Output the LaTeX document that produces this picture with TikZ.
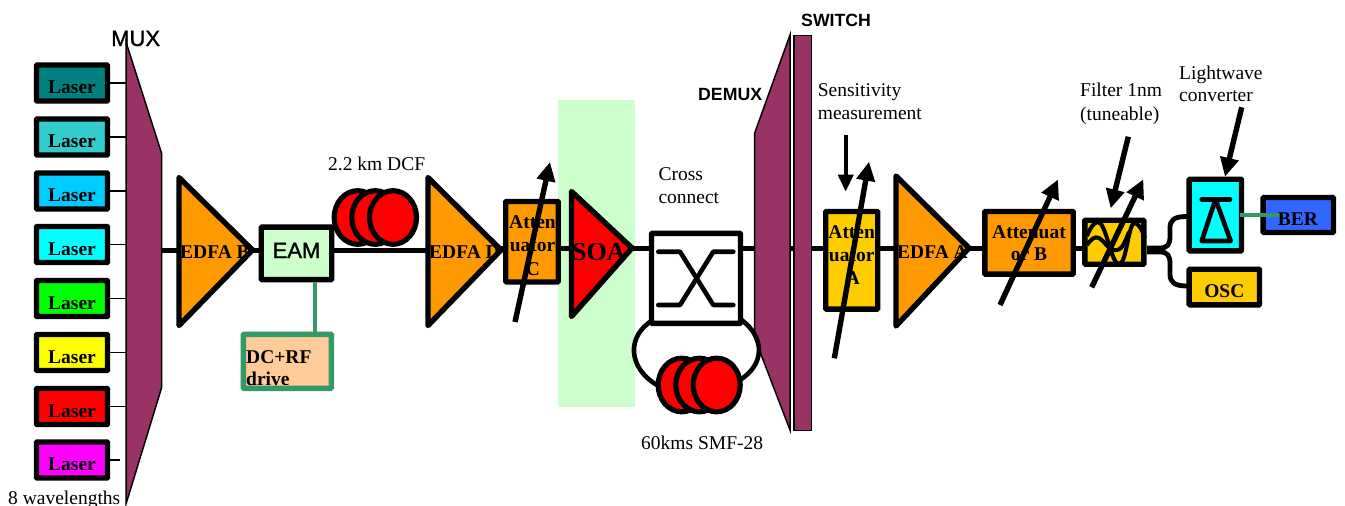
\documentclass[tikz,border=0pt]{standalone}
\usepackage{fontspec}
\setmainfont{Liberation Serif}
\setsansfont{Liberation Sans}
\newfontfamily\heavysans[FakeBold=1.2]{Liberation Sans}
\usetikzlibrary{arrows.meta}
\definecolor{plum}{HTML}{993366}
\definecolor{sea}{HTML}{339966}
\definecolor{mint}{HTML}{CCFFCC}
\definecolor{orng}{HTML}{FF9900}
\definecolor{gold}{HTML}{FFCC00}
\definecolor{peach}{HTML}{FFCC99}
\definecolor{teal1}{HTML}{008080}
\definecolor{teal2}{HTML}{33CCCC}
\definecolor{sky}{HTML}{00CCFF}
\definecolor{blu}{HTML}{3366FF}
\definecolor{cyn}{HTML}{00FFFF}
\definecolor{grn}{HTML}{00FF00}
\definecolor{yel}{HTML}{FFFF00}
\definecolor{rd}{HTML}{FF0000}
\definecolor{mgt}{HTML}{FF00FF}
\tikzset{
  x=1pt,y=-1pt,
  boxstyle/.style={draw=black,line width=5.4pt,rounded corners=0.8pt,inner sep=0pt},
  lab/.style={font=\fontsize{19.5}{23}\selectfont,inner sep=0pt,anchor=base west,align=left,text=black},
  blab/.style={font=\fontsize{19.5}{23}\selectfont\bfseries,inner sep=0pt,anchor=base,text=black},
  sans/.style={font=\fontsize{#1}{20}\selectfont\heavysans,inner sep=0pt,anchor=base west,text=black},
  fibre/.style={line width=5pt,black},
  thin stub/.style={line width=1.6pt,black},
  tri/.style={draw=black,line width=5.4pt,line join=round},
  plumshape/.style={fill=plum,draw=black,line width=1.5pt,line join=miter},
  bigarrow/.style={line width=5.4pt,black,-{Triangle[width=18pt,length=19pt]}},
  smallarrow/.style={line width=3.8pt,black,-{Triangle[width=15pt,length=17pt]}},
  coil/.style={draw=black,fill=rd,line width=5.2pt},
  xline/.style={line width=4.6pt,line cap=round,line join=round},
}
\newcommand{\laser}[3]{%
  \node[boxstyle,fill=#2,minimum width=71pt,minimum height=36pt] (#1) at (72,#3) {};
  \node[blab] (#1t) at (72,#3+10.5) {Laser};
  \coordinate (#1e) at (126,#3);
  \draw[thin stub] (#1.east) -- (#1e);
}
\begin{document}
\begin{tikzpicture}
\useasboundingbox (0,0) rectangle (1345,506);
% SOA background
\fill[mint] (558,100) rectangle (635,407);
% Lasers
\laser{la}{teal1}{83}
\laser{lb}{teal2}{137}
\laser{lc}{sky}{191}
\laser{ld}{cyn}{244.5}
\laser{le}{grn}{298.5}
\laser{lf}{yel}{352.5}
\laser{lg}{rd}{406.5}
\node[boxstyle,fill=mgt,minimum width=71pt,minimum height=36pt] (lh) at (72,460) {};
\node[blab] (lht) at (72,470.5) {Laser};
\coordinate (lhe) at (120,460);
\draw[thin stub] (lh.east) -- (lhe);
% Main line
\coordinate (m0) at (161,250);
\coordinate (m1) at (259,250);
\coordinate (m2) at (334,250);
\coordinate (m3) at (430,250);
\draw[fibre] (m0) -- (m1);
\draw[fibre] (m2) -- (m3);
\coordinate (n0) at (500,248);
\coordinate (n1) at (650,248);
\coordinate (n2) at (755,248);
\coordinate (n3) at (825,248);
\coordinate (n4) at (1085,248);
\draw[fibre] (n0) -- (n1);
\draw[fibre] (n1) -- (n2);
\draw[fibre] (n2) -- (n3) -- (n4);
% MUX
\draw[plumshape] (126,42) -- (161.5,153) -- (161.5,388) -- (126,504) -- cycle;
\node[sans=22] (mux) at (111,46) {MUX};
\node[lab] (wl) at (8,504) {8 wavelengths};
% EDFA B
\draw[tri,fill=orng] (179,177.5) -- (252.5,250) -- (179,325.5) -- cycle;
\node[blab,anchor=base west] (edfab) at (180,258) {EDFA B};
% EAM
\node[boxstyle,fill=mint,minimum width=70.5pt,minimum height=52.5pt] (eam) at (296.5,253.3) {};
\node[sans=22,anchor=base] (eamt) at (296.5,258) {EAM};
\node[boxstyle,draw=sea,fill=peach,minimum width=88pt,minimum height=54pt] (dc) at (287.3,361.3) {};
\coordinate (dcs) at (315,332);
\draw[line width=4.6pt,sea] (315,282) -- (dcs);
\node[blab,anchor=base west] (dct1) at (246,363) {DC+RF};
\node[blab,anchor=base west] (dct2) at (246,385) {drive};
% DCF coil
\draw[coil] (357.7,217.5) ellipse [x radius=23.5pt,y radius=26.8pt];
\draw[coil] (375.3,217.5) ellipse [x radius=23.5pt,y radius=26.8pt];
\draw[coil] (393,217.5) ellipse [x radius=23.5pt,y radius=26.8pt];
\node[lab] (dcf) at (328,170) {2.2 km DCF};
% EDFA D
\draw[tri,fill=orng] (428,177.5) -- (501,250) -- (428,325.5) -- cycle;
\node[blab,anchor=base west] (edfad) at (429,258) {EDFA D};
% Att C
\node[boxstyle,fill=orng,minimum width=52.5pt,minimum height=80.5pt] (attc) at (532,241.7) {};
\node[blab] (attc1) at (532.5,228) {Atten};
\node[blab] (attc2) at (532.5,251.5) {uator};
\node[blab] (attc3) at (533,275) {C};
\coordinate (ac0) at (515,322);
\coordinate (ac1) at (550,162);
\draw[bigarrow] (ac0) -- (ac1);
% SOA
\draw[tri,fill=rd] (571.5,191.5) -- (632,248) -- (571.5,316.5) -- cycle;
\node[font=\fontsize{26}{30}\selectfont\bfseries,inner sep=0pt,anchor=base west,text=black] (soa) at (572,260) {SOA};
% Cross connect
\node[boxstyle,fill=white,minimum width=89pt,minimum height=90pt] (xc) at (696,278.4) {};
\draw[xline] (658.3,251.7) -- (680,251.7) -- (713.3,305) -- (733.3,305);
\draw[xline] (658.3,305) -- (680,305) -- (713.3,251.7) -- (733.3,251.7);
\node[lab] (cc1) at (658.3,180) {Cross};
\node[lab] (cc2) at (658.3,203) {connect};
% DEMUX and switch
\draw[plumshape] (790,35) -- (754.7,133) -- (754.7,338) -- (790,430) -- cycle;
\draw[plumshape] (794,35.5) rectangle (811.5,430.5);
\node[sans=17.7,font=\fontsize{17.7}{20}\selectfont\sffamily\bfseries] (dem) at (698,100) {DEMUX};
\node[sans=17.7,font=\fontsize{17.7}{20}\selectfont\sffamily\bfseries] (sw) at (801,26) {SWITCH};
% SMF loop
\coordinate (l0) at (653,320);
\coordinate (l1) at (657,385);
\coordinate (r0) at (741.7,320);
\coordinate (r1) at (740,380);
\draw[line width=4.6pt] (l0) .. controls (626,336) and (628,368) .. (l1);
\draw[line width=4.6pt] (r0) .. controls (765,338) and (765,364) .. (r1);
\draw[coil] (681.7,385) ellipse [x radius=23.5pt,y radius=26.8pt];
\draw[coil] (699.3,385) ellipse [x radius=23.5pt,y radius=26.8pt];
\draw[coil] (716.7,385) ellipse [x radius=23.5pt,y radius=26.8pt];
\node[lab] (smf) at (641,449) {60kms SMF-28};
% Sensitivity
\node[lab] (se1) at (817.7,96) {Sensitivity};
\node[lab] (se2) at (817.7,119) {measurement};
\coordinate (sa0) at (845.7,135);
\coordinate (sa1) at (845.7,191.7);
\draw[smallarrow] (sa0) -- (sa1);
% Att A
\node[boxstyle,fill=gold,minimum width=52pt,minimum height=97.7pt] (atta) at (851.7,260.3) {};
\node[blab] (atta1) at (851.7,238) {Atten};
\node[blab] (atta2) at (851.7,261.5) {uator};
\node[blab] (atta3) at (853,284) {A};
\coordinate (aa0) at (834.3,358.3);
\coordinate (aa1) at (869,161.7);
\draw[bigarrow] (aa0) -- (aa1);
% EDFA A
\draw[tri,fill=orng] (896,176) -- (969,248) -- (896,326) -- cycle;
\node[blab,anchor=base west] (edfaa) at (897,258.3) {EDFA A};
% Att B
\node[boxstyle,fill=orng,minimum width=88.4pt,minimum height=62.7pt] (attb) at (1029,242.8) {};
\node[blab] (attb1) at (1029,238.5) {Attenuat};
\node[blab] (attb2) at (1029,260) {or B};
\coordinate (ab0) at (1000,305);
\coordinate (ab1) at (1058,179.5);
\draw[bigarrow] (ab0) -- (ab1);
% Filter
\node[boxstyle,fill=gold,minimum width=59pt,minimum height=44pt] (fil) at (1114.3,242.2) {};
\draw[line width=4pt] (1087,236) .. controls (1091,226) and (1096,219) .. (1101,224) .. controls (1108,234) and (1112,264) .. (1119,264) .. controls (1127,264) and (1128,222) .. (1135,223) .. controls (1139,224) and (1142,230) .. (1145,238);
\draw[line width=4pt] (1087,245) .. controls (1091,239) and (1095,236) .. (1099,238) .. controls (1105,241) and (1108,250) .. (1114,250) .. controls (1122,251) and (1124,244) .. (1129,232);
\coordinate (fa0) at (1091.7,287.3);
\coordinate (fa1) at (1143.3,179.3);
\draw[bigarrow] (fa0) -- (fa1);
\coordinate (fb0) at (1128.3,136.7);
\coordinate (fb1) at (1110.7,208.3);
\draw[bigarrow] (fb0) -- (fb1);
\node[lab] (fi1) at (1080,96.7) {Filter 1nm};
\node[lab] (fi2) at (1080,120) {(tuneable)};
% Detector
\node[boxstyle,fill=cyn,minimum width=52.3pt,minimum height=71.6pt] (det) at (1215.3,215) {};
\draw[xline] (1201.7,199.3) -- (1230,199.3);
\draw[xline] (1215.5,199.3) -- (1230.7,241) -- (1201.7,241) -- cycle;
\node[boxstyle,fill=blu,minimum width=70.3pt,minimum height=35pt] (ber) at (1298.3,215) {};
\coordinate (bs) at (1280,215);
\draw[line width=4.6pt,sea] (1240,215) -- (bs);
\node[blab] (bert) at (1298,225) {BER};
\node[boxstyle,fill=gold,minimum width=70.3pt,minimum height=35.6pt] (osc) at (1224.3,287) {};
\node[blab] (osct) at (1224.3,297) {OSC};
% Splitter
\coordinate (upj) at (1187,216.5);
\coordinate (dnj) at (1187,286);
\draw[line width=4.8pt] (1147,248) -- (1160,248) .. controls (1168,248) and (1170,244) .. (1170,236) -- (1170,228) .. controls (1170,220) and (1174,216.5) .. (upj);
\draw[line width=4.8pt] (1147,252) -- (1160,252) .. controls (1168,252) and (1170,256) .. (1170,264) -- (1170,274) .. controls (1170,282) and (1174,286) .. (dnj);
\node[lab] (lw1) at (1179,79.3) {Lightwave};
\node[lab] (lw2) at (1179,101.7) {converter};
\coordinate (lwa0) at (1241.7,107.3);
\coordinate (lwa1) at (1225,176.7);
\draw[bigarrow] (lwa0) -- (lwa1);
\end{tikzpicture}
\end{document}
